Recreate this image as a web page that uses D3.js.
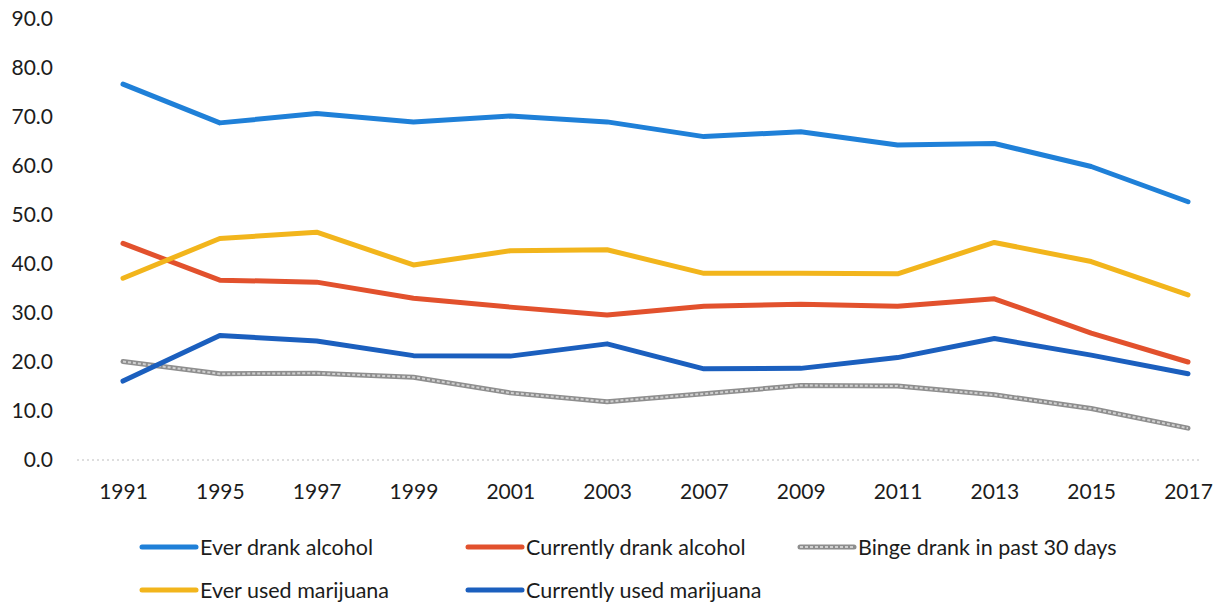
<!DOCTYPE html>
<html>
<head>
<meta charset="utf-8">
<script src="https://cdn.jsdelivr.net/npm/d3@7"></script>
<style>
  html, body { margin: 0; padding: 0; background: #fff; }
  svg { display: block; }
  text { font-family: Lato, "Open Sans", sans-serif; fill: #1c1c1c; }
</style>
</head>
<body>
<svg id="chart" width="1217" height="605"></svg>
<script>
// Survey years along the x axis
const years = ["1991","1995","1997","1999","2001","2003","2007","2009","2011","2013","2015","2017"];

// Percent of students, one array per behaviour
const everDrank      = [76.7, 68.8, 70.7, 69.0, 70.2, 69.0, 66.0, 67.0, 64.3, 64.6, 59.9, 52.7];
const currentlyDrank = [44.2, 36.7, 36.3, 33.0, 31.2, 29.6, 31.4, 31.8, 31.4, 32.9, 25.9, 20.0];
const bingeDrank     = [20.1, 17.6, 17.7, 16.9, 13.7, 11.9, 13.5, 15.2, 15.1, 13.3, 10.5, 6.5];
const everMarijuana  = [37.1, 45.2, 46.5, 39.8, 42.7, 42.9, 38.1, 38.1, 38.0, 44.4, 40.5, 33.7];
const currMarijuana  = [16.1, 25.4, 24.3, 21.3, 21.2, 23.7, 18.6, 18.7, 20.9, 24.8, 21.4, 17.6];

const yTicks = [0, 10, 20, 30, 40, 50, 60, 70, 80, 90];

const series = [
  { name: "Ever drank alcohol",        values: everDrank,      color: "#1f80d8" },
  { name: "Currently drank alcohol",   values: currentlyDrank, color: "#e2512d" },
  { name: "Binge drank in past 30 days", values: bingeDrank,   color: "#8e8e8e", textured: true },
  { name: "Ever used marijuana",       values: everMarijuana,  color: "#f2b51c" },
  { name: "Currently used marijuana",  values: currMarijuana,  color: "#1b5fbe" }
];

const svg = d3.select("#chart");

const x = d3.scalePoint().domain(years).range([123, 1188]);
const y = d3.scaleLinear().domain([0, 90]).range([460, 19]);

// Y axis labels only
const yAxis = svg.append("g")
  .attr("transform", "translate(53,0)")
  .call(d3.axisLeft(y).tickValues(yTicks).tickFormat(d3.format(".1f")).tickSize(0).tickPadding(0));
yAxis.select(".domain").remove();
yAxis.selectAll("text").style("font-size", "21px").style("font-family", "Lato, sans-serif").attr("fill", "#1c1c1c");

// Faint dotted baseline at zero
svg.append("line")
  .attr("x1", 77).attr("x2", 1202)
  .attr("y1", y(0)).attr("y2", y(0))
  .attr("stroke", "#d4d4d4")
  .attr("stroke-width", 1.5)
  .attr("stroke-dasharray", "2,3");

// X axis labels
const xAxis = svg.append("g")
  .attr("transform", `translate(0,${y(0)})`)
  .call(d3.axisBottom(x).tickSize(0).tickPadding(24));
xAxis.select(".domain").remove();
xAxis.selectAll("text").style("font-size", "21px").style("font-family", "Lato, sans-serif").attr("fill", "#1c1c1c");

const line = d3.line()
  .x((d, i) => x(years[i]))
  .y(d => y(d));

series.forEach(s => {
  svg.append("path")
    .datum(s.values)
    .attr("d", line)
    .attr("fill", "none")
    .attr("stroke", s.color)
    .attr("stroke-width", 5)
    .attr("stroke-linejoin", "round")
    .attr("stroke-linecap", "round");
  if (s.textured) {
    svg.append("path")
      .datum(s.values)
      .attr("d", line)
      .attr("fill", "none")
      .attr("stroke", "#d0d0d0")
      .attr("stroke-width", 2)
      .attr("stroke-dasharray", "3,2");
  }
});

// Legend
const legendItems = [
  { s: series[0], x: 142, y: 547 },
  { s: series[1], x: 468, y: 547 },
  { s: series[2], x: 800, y: 547 },
  { s: series[3], x: 142, y: 590 },
  { s: series[4], x: 468, y: 590 }
];

const lg = svg.append("g");
legendItems.forEach(it => {
  lg.append("line")
    .attr("x1", it.x).attr("x2", it.x + 54)
    .attr("y1", it.y).attr("y2", it.y)
    .attr("stroke", it.s.color)
    .attr("stroke-width", 5)
    .attr("stroke-linecap", "round");
  if (it.s.textured) {
    lg.append("line")
      .attr("x1", it.x).attr("x2", it.x + 54)
      .attr("y1", it.y).attr("y2", it.y)
      .attr("stroke", "#d0d0d0")
      .attr("stroke-width", 2)
      .attr("stroke-dasharray", "3,2");
  }
  lg.append("text")
    .attr("x", it.x + 58)
    .attr("y", it.y)
    .attr("dy", "0.35em")
    .style("font-size", "21.5px")
    .text(it.s.name);
});
</script>
</body>
</html>
